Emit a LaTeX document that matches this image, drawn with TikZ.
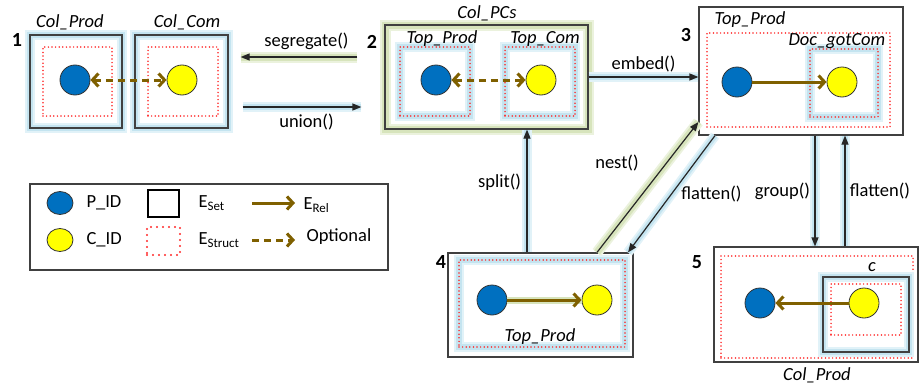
\documentclass[tikz,border=0pt]{standalone}
\usepackage{fontspec}
\setmainfont{Carlito}
\usetikzlibrary{arrows.meta,shapes.geometric,positioning}
\definecolor{pblue}{RGB}{0,112,192}
\definecolor{cyellow}{RGB}{255,255,0}
\definecolor{relbrown}{RGB}{127,96,0}
\definecolor{boxgray}{RGB}{64,64,64}
\definecolor{glowblue}{RGB}{196,228,240}
\definecolor{glowgreen}{RGB}{215,228,188}
\definecolor{dotred}{RGB}{255,40,40}
\begin{document}
\begin{tikzpicture}[x=1pt,y=-1pt,font=\fontsize{18.5}{20}\selectfont,
   setbox/.style 2 args={draw=boxgray,line width=1.2pt,inner sep=0pt,minimum width=#1pt,minimum height=#2pt},
   structbox/.style 2 args={draw=dotred,line width=1.7pt,line cap=round,dash pattern=on 0pt off 3.6pt,inner sep=0pt,minimum width=#1pt,minimum height=#2pt},
   blueglow/.style={preaction={draw=glowblue!50,line width=10pt,solid,line cap=butt,-},
                    preaction={draw=glowblue,line width=6pt,solid,line cap=butt,-}},
   greenglow/.style={preaction={draw=glowgreen!50,line width=11pt,solid,line cap=butt,-},
                     preaction={draw=glowgreen,line width=7pt,solid,line cap=butt,-}},
   pid/.style={circle,draw=black!80,fill=pblue,line width=0.8pt,minimum size=30pt,inner sep=0pt},
   cid/.style={pid,fill=cyellow},
   rel/.style={draw=relbrown,line width=3pt,-{Straight Barb[length=6pt,width=13pt]}},
   opt/.style={rel,{Straight Barb[length=6pt,width=13pt]}-{Straight Barb[length=6pt,width=13pt]},dash pattern=on 7pt off 5pt},
   op/.style={draw=black!85,line width=1.2pt,-{Triangle[length=9pt,width=7pt]}},
   lbl/.style={font=\fontsize{18.5}{20}\selectfont\itshape},
   num/.style={font=\fontsize{20}{22}\selectfont\bfseries}]
\useasboundingbox (0,0) rectangle (919,388);

% 1
\node[setbox={92}{93},blueglow] (b1a) at (76,81.5) {};
\node[setbox={93}{93},blueglow] (b1b) at (181.5,81.5) {};
\node[structbox={69}{69}] (s1a) at (77.5,81.5) {};
\node[structbox={70}{69}] (s1b) at (183,81.5) {};
\node[pid] (p1) at (75,80) {};
\node[cid] (c1) at (182,80) {};
\draw[opt] (p1) -- (c1);
\node[lbl] at (70,22) {Col\_Prod};
\node[lbl] at (187,22) {Col\_Com};
\node[num] at (17,40) {1};

% 2
\node[setbox={203}{104},greenglow] (b2) at (486.5,77) {};
\node[structbox={70}{69},blueglow] (s2a) at (435,81.5) {};
\node[structbox={70}{69},blueglow] (s2b) at (540,81.5) {};
\node[pid] (p2) at (436,80) {};
\node[cid] (c2) at (541,80) {};
\draw[opt] (p2) -- (c2);
\node[lbl] at (487,13) {Col\_PCs};
\node[lbl] at (442,39) {Top\_Prod};
\node[lbl] at (545,39) {Top\_Com};
\node[num] at (372,42) {2};

% 3
\node[setbox={204}{128}] (b3) at (801,71) {};
\node[structbox={183}{94}] (s3) at (798.5,80) {};
\node[structbox={68}{68},blueglow] (s3b) at (844,83) {};
\node[pid] (p3) at (737,82) {};
\node[cid] (c3) at (842,82) {};
\draw[rel] (p3) -- (c3);
\node[lbl] at (750,20) {Top\_Prod};
\node[lbl] at (837,41) {Doc\_gotCom};
\node[num] at (686,35) {3};

% 4
\node[setbox={185}{104}] (b4) at (540.5,305) {};
\node[structbox={166}{87},blueglow] (s4) at (542,303.5) {};
\node[pid] (p4) at (492,300) {};
\node[cid] (c4) at (597,300) {};
\draw[rel,preaction={draw=glowgreen,line width=7pt,-}] (p4) -- (c4);
\node[lbl] at (540,337) {Top\_Prod};
\node[num] at (441,262) {4};

% 5
\node[setbox={204}{115}] (b5) at (816,304.5) {};
\node[structbox={192}{102}] (s5) at (817,307) {};
\node[setbox={86}{75},blueglow] (b5c) at (866,314.5) {};
\node[structbox={70}{51}] (s5c) at (866,309.5) {};
\node[pid] (p5) at (760,303) {};
\node[cid] (c5) at (864,303) {};
\draw[rel] (c5) -- (p5);
\node[lbl] at (872,267) {c};
\node[lbl] at (817,375) {Col\_Prod};
\node[num] at (697,262) {5};

% operations
\draw[op,greenglow,shorten <=27pt,shorten >=12pt] (b2.west |- 0,57) -- node[above=3pt] {segregate()} (b1b.east |- 0,57);
\draw[op,blueglow,shorten <=14pt,shorten >=23pt] (b1b.east |- 0,107) -- node[below=3pt] {union()} (b2.west |- 0,107);
\draw[op,blueglow] (b2.east |- 0,77) -- node[above=1pt] {embed()} (b3.west |- 0,77);
\draw[op,blueglow] (b4.north -| 527,0) -- node[left=2pt,pos=0.57] {split()} (b2.south -| 527,0);
\draw[op,greenglow] (b4.north -| 597,0) -- (b3.west |- 0,122);
\node at (617,163) {nest()};
\draw[op,blueglow] (b3.south -| 715,0) -- node[right=6pt] {flatten()} (b4.north -| 628,0);
\draw[op,blueglow] (b3.south -| 815,0) -- node[left=1pt,pos=0.5] {group()} (b5.north -| 815,0);
\draw[op,blueglow] (b5.north -| 845,0) -- node[right=1pt,pos=0.5] {flatten()} (b3.south -| 845,0);

% legend
\node[setbox={358}{86}] (legend) at (209,227) {};
\node[ellipse,draw=black!80,fill=pblue,line width=0.8pt,minimum width=26pt,minimum height=23pt,inner sep=0pt] (lp) at (60,203) {};
\node[ellipse,draw=black!80,fill=cyellow,line width=0.8pt,minimum width=26pt,minimum height=23pt,inner sep=0pt] (lc) at (60,240) {};
\node[anchor=west] at (83,203) {P\_ID};
\node[anchor=west] at (83,240) {C\_ID};
\node[draw=black,line width=2.5pt,minimum width=31pt,minimum height=27pt,inner sep=0pt] (lset) at (163.5,203.5) {};
\node[draw=dotred,line width=2.2pt,line cap=round,dash pattern=on 0pt off 6pt,minimum width=33pt,minimum height=28pt,inner sep=0pt] (lstruct) at (163.5,241) {};
\node[anchor=west] at (195,203) {E\textsubscript{Set}};
\node[anchor=west] at (195,240) {E\textsubscript{Struct}};
\coordinate (r1) at (252,203);
\coordinate (r2) at (295,203);
\coordinate (o1) at (252,240);
\coordinate (o2) at (295,240);
\draw[rel] (r1) -- (r2);
\draw[rel,dash pattern=on 7pt off 5pt] (o1) -- (o2);
\node[anchor=west] at (300,205) {E\textsubscript{Rel}};
\node[anchor=west] at (303,237) {Optional};
\end{tikzpicture}
\end{document}
